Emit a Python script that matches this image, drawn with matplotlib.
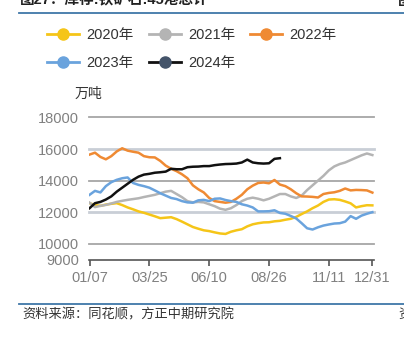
import numpy as np
import matplotlib
matplotlib.use("Agg")
import matplotlib.pyplot as plt
from matplotlib.lines import Line2D

plt.rcParams['font.family'] = ['Liberation Sans', 'Noto Sans CJK SC', 'DejaVu Sans']

# weekly points, 53 per year; tick labels every 11 weeks
tick_pos = [0, 11, 22, 33, 44, 52]
tick_labels = ['01/07', '03/25', '06/10', '08/26', '11/11', '12/31']
y_ticks = [9000, 10000, 12000, 14000, 16000, 18000]

y2020 = [12570, 12450, 12400, 12480, 12530, 12570, 12450, 12300, 12180, 12050,
         11960, 11850, 11740, 11620, 11650, 11680, 11560, 11400, 11230, 11060,
         10950, 10850, 10800, 10720, 10650, 10620, 10760, 10850, 10920, 11100,
         11230, 11300, 11350, 11360, 11420, 11450, 11520, 11580, 11700, 11880,
         12050, 12250, 12420, 12650, 12800, 12820, 12780, 12680, 12560, 12300,
         12380, 12440, 12430]
y2021 = [12600, 12320, 12400, 12460, 12550, 12650, 12720, 12780, 12830, 12880,
         12960, 13030, 13100, 13200, 13300, 13350, 13150, 12950, 12700, 12620,
         12650, 12620, 12500, 12380, 12220, 12150, 12250, 12450, 12700, 12850,
         12920, 12850, 12750, 12850, 13000, 13150, 13150, 13000, 12900, 13050,
         13400, 13700, 14000, 14300, 14650, 14900, 15050, 15150, 15300, 15450,
         15600, 15720, 15620]
y2022 = [15650, 15770, 15500, 15350, 15550, 15850, 16050, 15900, 15830, 15770,
         15550, 15480, 15470, 15250, 14950, 14750, 14600, 14400, 14150, 13700,
         13450, 13250, 12900, 12700, 12650, 12600, 12650, 12850, 13100, 13450,
         13680, 13850, 13880, 13830, 14040, 13750, 13650, 13450, 13200, 13000,
         12990, 12970, 12930, 13150, 13220, 13260, 13350, 13500, 13380, 13410,
         13400, 13380, 13240]
y2023 = [13100, 13350, 13250, 13650, 13900, 14050, 14150, 14200, 13850, 13730,
         13650, 13550, 13380, 13200, 13050, 12900, 12830, 12700, 12620, 12600,
         12750, 12780, 12700, 12850, 12870, 12770, 12700, 12650, 12500, 12420,
         12300, 12050, 12050, 12060, 12120, 11950, 11900, 11760, 11600, 11300,
         10980, 10900, 11040, 11150, 11220, 11280, 11300, 11400, 11750, 11580,
         11780, 11900, 12000]
y2024 = [12250, 12570, 12650, 12800, 13000, 13300, 13550, 13800, 14050, 14250,
         14380, 14430, 14500, 14530, 14570, 14750, 14720, 14720, 14850, 14880,
         14890, 14920, 14920, 14980, 15020, 15050, 15060, 15080, 15150, 15330,
         15150, 15100, 15080, 15100, 15380, 15420]

series = [
    ('2020年', y2020, '#f5c518', '#f5c518'),
    ('2021年', y2021, '#b4b4b4', '#b4b4b4'),
    ('2022年', y2022, '#ef8a33', '#ef8a33'),
    ('2023年', y2023, '#6aa3dd', '#6aa3dd'),
    ('2024年', y2024, '#111111', '#44546a'),
]

W, H = 404, 339
fig = plt.figure(figsize=(W / 100, H / 100), dpi=100)
ax = fig.add_axes([89 / W, 1 - 259.5 / H, (374 - 89) / W, (259.5 - 117.5) / H])

# gridlines
for v in [10000, 12000, 14000, 16000, 18000]:
    if v in (12000, 16000):
        ax.axhline(v, color='#c9ced6', lw=2.0, zorder=1, clip_on=False)
    else:
        ax.axhline(v, color='#a6a6a6', lw=1.3, zorder=1, clip_on=False)

for name, vals, col, mcol in series:
    ax.plot(np.arange(len(vals)), vals, color=col, lw=1.8, zorder=3)

ax.set_xlim(-0.1, 52.3)
ax.set_ylim(9000, 18000)
ax.set_xticks(tick_pos)
ax.set_xticklabels(tick_labels)
ax.set_yticks(y_ticks)
ax.set_yticklabels([str(v) for v in y_ticks])

for s in ['top', 'right', 'left']:
    ax.spines[s].set_visible(False)
ax.spines['bottom'].set_color('#555555')
ax.spines['bottom'].set_linewidth(1.2)
ax.tick_params(axis='y', length=0, pad=7, labelsize=10.5, labelcolor='#808080')
ax.tick_params(axis='x', length=4, width=1.2, color='#555555', pad=4,
               labelsize=10.5, labelcolor='#808080')

# legend: 3 columns filled row-wise -> reorder for column-major fill
handles = [Line2D([0], [0], color=col, lw=2, marker='o', markersize=8,
                  markerfacecolor=mcol, markeredgecolor=mcol)
           for name, vals, col, mcol in series]
labels = [s[0] for s in series]
order = [0, 3, 1, 4, 2]
leg = fig.legend([handles[k] for k in order], [labels[k] for k in order],
                 ncol=3, loc='upper left',
                 bbox_to_anchor=(40 / W, 1 - 21 / H), frameon=False,
                 fontsize=10.5, handlelength=2.2, handletextpad=0.5,
                 columnspacing=1.0, labelspacing=0.95, borderpad=0)
for t in leg.get_texts():
    t.set_color('#333333')

fig.text(88 / W, 1 - 94 / H, '万吨', ha='center', va='center',
         fontsize=10, color='#333333')

# cropped page title and rules
fig.text(20 / W, 1 - 0.5 / H, '图27：库存:铁矿石:45港总计', ha='left', va='center',
         fontsize=10.5, color='#222222', fontweight='bold')
fig.text(398 / W, 1 - 0.5 / H, '图', ha='left', va='center',
         fontsize=10.5, color='#222222', fontweight='bold')
fig.add_artist(Line2D([19 / W, 1], [1 - 12.7 / H, 1 - 12.7 / H],
                      color='#3f77a8', lw=1.3))
fig.add_artist(Line2D([19 / W, 1], [1 - 304 / H, 1 - 304 / H],
                      color='#3f77a8', lw=1.3))
fig.text(22 / W, 1 - 315 / H, '资料来源：同花顺，方正中期研究院', ha='left', va='center',
         fontsize=9.5, color='#333333', style='italic')
fig.text(398 / W, 1 - 315 / H, '资', ha='left', va='center',
         fontsize=9.5, color='#333333')

fig.savefig('out.png', dpi=100)
